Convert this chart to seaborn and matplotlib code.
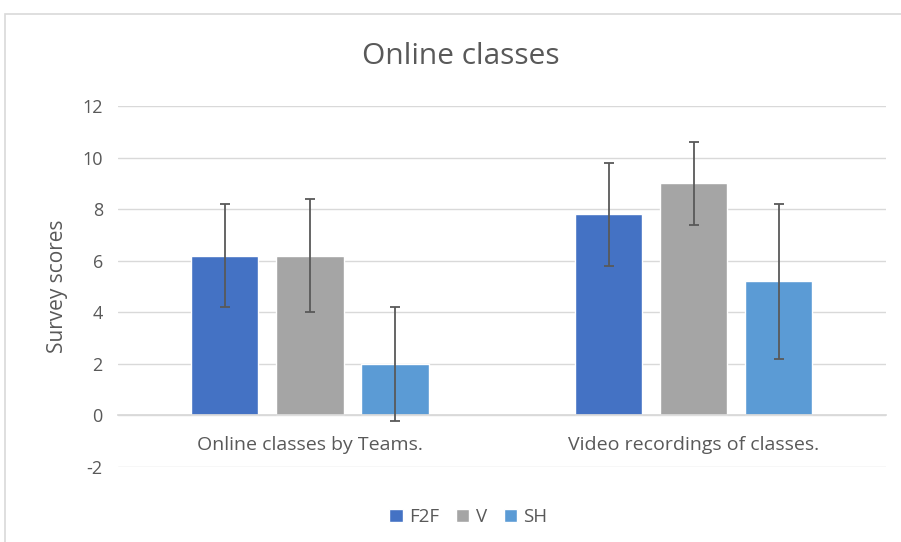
"""Grouped bar chart: survey scores for online classes by group."""

import matplotlib.pyplot as plt
import numpy as np
import pandas as pd
import seaborn as sns
from matplotlib.patches import Rectangle

categories = ["Online classes by Teams.", "Video recordings of classes."]
groups = ["F2F", "V", "SH"]
f2f_scores = [6.2, 7.8]
v_scores = [6.2, 9.0]
sh_scores = [2.0, 5.2]
f2f_err = [2.0, 2.0]
v_err = [2.2, 1.6]
sh_err = [2.2, 3.0]
y_ticks = [-2, 0, 2, 4, 6, 8, 10, 12]

palette = {"F2F": "#4472C4", "V": "#A5A5A5", "SH": "#5B9BD5"}
TEXT = "#595959"
GRID = "#D9D9D9"

df = pd.DataFrame({
    "category": categories * 3,
    "group": np.repeat(groups, len(categories)),
    "score": f2f_scores + v_scores + sh_scores,
    "err": f2f_err + v_err + sh_err,
})

sns.set_theme(style="white")
plt.rcParams["font.family"] = ["Open Sans", "DejaVu Sans"]
plt.rcParams["axes.unicode_minus"] = False

fig = plt.figure(figsize=(9.01, 5.42), dpi=100)
ax = fig.add_axes([0.131, 0.1384, 0.852, 0.666])

sns.barplot(
    data=df, x="category", y="score", hue="group", hue_order=groups,
    order=categories, palette=palette, width=0.665, gap=0.21,
    errorbar=None, saturation=1, ax=ax, legend=True,
)

for cont, g in zip(ax.containers, groups):
    errs = df[df["group"] == g]["err"].to_numpy()
    xs = [p.get_x() + p.get_width() / 2 for p in cont]
    ys = [p.get_height() for p in cont]
    ax.errorbar(
        xs, ys, yerr=errs, fmt="none", ecolor=TEXT,
        elinewidth=1.3, capsize=3.8, capthick=1.3, zorder=5,
    )

ax.set_ylim(-2, 12)
ax.set_yticks(y_ticks)
ax.set_xlim(-0.5, 1.5)
ax.yaxis.grid(True, color=GRID, linewidth=1.0)
ax.set_axisbelow(True)
for side in ["top", "right", "left"]:
    ax.spines[side].set_visible(False)
ax.spines["bottom"].set_position(("data", 0))
ax.spines["bottom"].set_color(GRID)
ax.tick_params(axis="both", length=0, colors=TEXT)
ax.tick_params(axis="x", pad=15, labelsize=14)
ax.tick_params(axis="y", pad=11, labelsize=13)
ax.set_xlabel("")
ax.set_ylabel("Survey scores", fontsize=15, color=TEXT, labelpad=10)

handles, labels = ax.get_legend_handles_labels()
ax.get_legend().remove()
fig.legend(
    handles, labels, loc="center", bbox_to_anchor=(0.52, 0.046), ncol=3,
    frameon=False, handlelength=0.7, handleheight=0.7, handletextpad=0.35,
    columnspacing=0.9, fontsize=13.5, labelcolor=TEXT,
)

fig.text(0.511, 0.895, "Online classes", ha="center", va="center",
         fontsize=21.5, color=TEXT)

fig.patches.append(Rectangle(
    (5 / 901, -0.2), 1.2, 1.2 - 14 / 542, transform=fig.transFigure,
    fill=False, edgecolor=GRID, linewidth=1.2,
))

fig.savefig("out.png", dpi=100)
